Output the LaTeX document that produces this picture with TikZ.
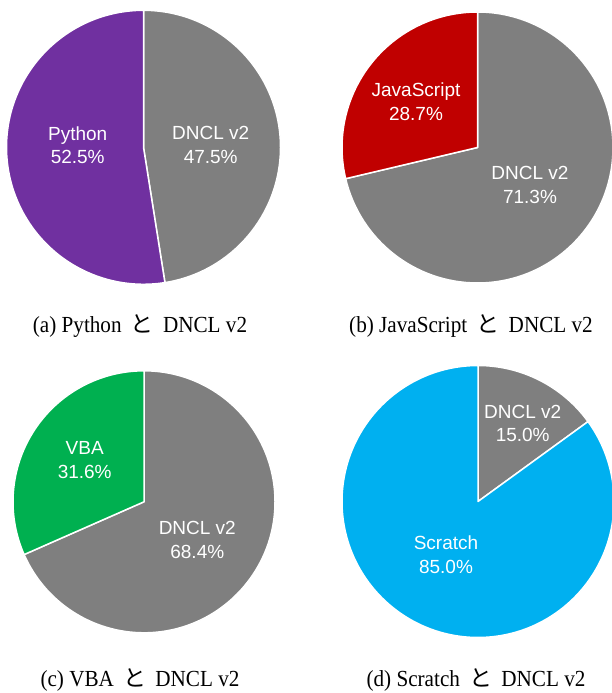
\documentclass[tikz,border=0pt]{standalone}
\usepackage{fontspec}
\setmainfont{Liberation Serif}[FakeStretch=0.92]
\setsansfont{Liberation Sans}
\newfontfamily\cjk{Noto Sans CJK JP}

\definecolor{pyPurple}{HTML}{7030A0}
\definecolor{dnclGray}{HTML}{7F7F7F}
\definecolor{jsRed}{HTML}{C00000}
\definecolor{vbaGreen}{HTML}{00B050}
\definecolor{scratchCyan}{HTML}{00B0F0}

% pie wedge: centre, radius, start angle, end angle, fill colour
\newcommand\drawslice[5]{%
  \filldraw[slice, fill=#5] (#1) -- ++(#3:#2) arc[start angle=#3, end angle=#4, radius=#2] -- cycle;}

\tikzset{
  slice/.style={draw=white, line width=1.5pt, line join=round},
  pielabel/.style={text=white, font=\sffamily\fontsize{19}{23.5}\selectfont,
                   align=center, inner sep=0pt},
  subcaption/.style={font=\fontsize{23}{27}\selectfont, inner sep=0pt, anchor=base},
}
\newcommand\tojp{\hspace{0.4em}{\cjk と}\hspace{0.4em}}

\begin{document}
\begin{tikzpicture}[x=1pt, y=1pt]
  \useasboundingbox (0,0) rectangle (612,693);

  \coordinate (ca) at (143.5,545.7);
  \coordinate (cb) at (477.5,545.5);
  \coordinate (cc) at (144,191.2);
  \coordinate (cd) at (478,191.5);

  % (a) Python / DNCL v2
  \drawslice{ca}{137pt}{90}{-81}{dnclGray}
  \drawslice{ca}{137pt}{90}{279}{pyPurple}
  \node[pielabel] (aPy) at (77.7,548) {Python\\52.5\%};
  \node[pielabel] (aDn) at (210.7,548) {DNCL v2\\47.5\%};

  % (b) JavaScript / DNCL v2
  \drawslice{cb}{135.5pt}{90}{-166.68}{dnclGray}
  \drawslice{cb}{135.5pt}{90}{193.32}{jsRed}
  \node[pielabel] (bJs) at (416,591.5) {JavaScript\\28.7\%};
  \node[pielabel] (bDn) at (530,508) {DNCL v2\\71.3\%};

  % (c) VBA / DNCL v2
  \drawslice{cc}{131pt}{90}{-156.24}{dnclGray}
  \drawslice{cc}{131pt}{90}{203.76}{vbaGreen}
  \node[pielabel] (cVba) at (84.7,232.7) {VBA\\31.6\%};
  \node[pielabel] (cDn) at (197.3,153) {DNCL v2\\68.4\%};

  % (d) Scratch / DNCL v2
  \drawslice{cd}{136pt}{90}{36}{dnclGray}
  \drawslice{cd}{136pt}{90}{396}{scratchCyan}
  \node[pielabel] (dDn) at (522.7,269.7) {DNCL v2\\15.0\%};
  \node[pielabel] (dSc) at (446,138.3) {Scratch\\85.0\%};

  % sub-captions
  \node[subcaption] (capA) at (140,360) {(a) Python\tojp DNCL v2};
  \node[subcaption] (capB) at (471,360) {(b) JavaScript\tojp DNCL v2};
  \node[subcaption] (capC) at (140,6) {(c) VBA\tojp DNCL v2};
  \node[subcaption] (capD) at (476,6) {(d) Scratch\tojp DNCL v2};
\end{tikzpicture}
\end{document}
